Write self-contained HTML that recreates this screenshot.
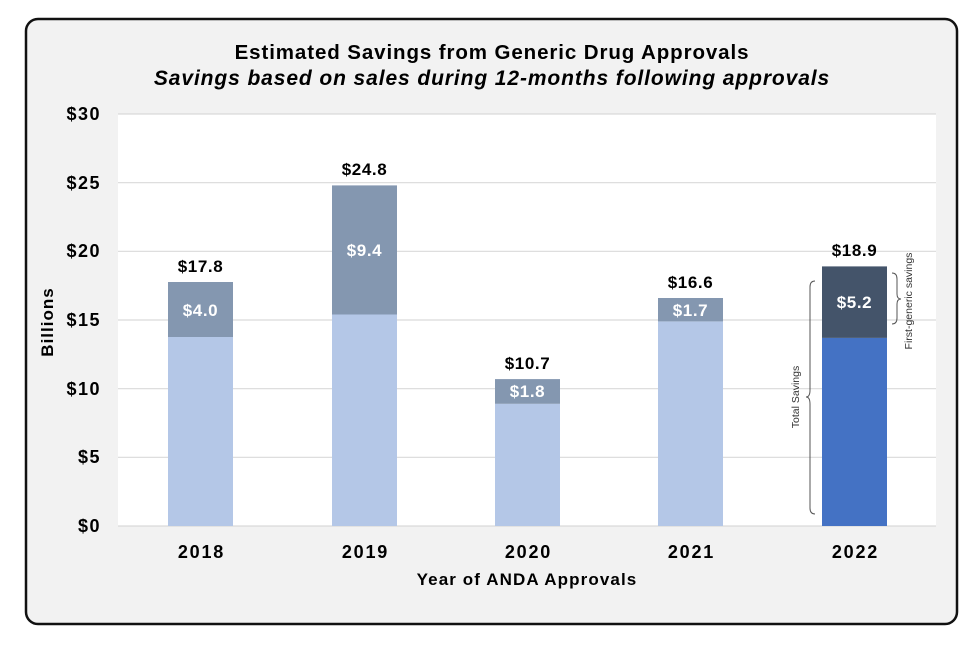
<!DOCTYPE html>
<html><head><style>body{margin:0;background:#fff}svg{display:block}text{font-family:"Liberation Sans",sans-serif}</style></head><body>
<svg width="980" height="651" xmlns="http://www.w3.org/2000/svg">
<rect x="26" y="19" width="931" height="605" rx="12" fill="#f2f2f2" stroke="#111" stroke-width="2.5"/>
<rect x="118" y="114" width="818" height="412" fill="#fff"/>
<g stroke="#d9d9d9" stroke-width="1.2">
<line x1="118" x2="936" y1="114" y2="114"/><line x1="118" x2="936" y1="182.7" y2="182.7"/>
<line x1="118" x2="936" y1="251.3" y2="251.3"/><line x1="118" x2="936" y1="320" y2="320"/>
<line x1="118" x2="936" y1="388.7" y2="388.7"/><line x1="118" x2="936" y1="457.3" y2="457.3"/>
<line x1="118" x2="936" y1="526" y2="526"/></g>
<g font-weight="bold" font-size="18" letter-spacing="1.5" text-anchor="end" fill="#000">
<text x="101" y="120">$30</text><text x="101" y="189">$25</text><text x="101" y="257">$20</text>
<text x="101" y="326">$15</text><text x="101" y="395">$10</text><text x="101" y="463">$5</text><text x="101" y="532">$0</text></g>
<text x="492" y="59" text-anchor="middle" font-weight="bold" font-size="20.5" letter-spacing="0.9">Estimated Savings from Generic Drug Approvals</text>
<text x="492" y="85" text-anchor="middle" font-weight="bold" font-style="italic" font-size="21" letter-spacing="0.9">Savings based on sales during 12-months following approvals</text>
<text transform="translate(53,322) rotate(-90)" text-anchor="middle" font-weight="bold" font-size="17" letter-spacing="1">Billions</text>
<text x="527" y="585" text-anchor="middle" font-weight="bold" font-size="17" letter-spacing="1.1">Year of ANDA Approvals</text>
<g fill="#b4c7e7">
<rect x="168" y="337" width="65" height="189"/><rect x="332" y="314.5" width="65" height="211.5"/>
<rect x="495" y="403.8" width="65" height="122.2"/><rect x="658" y="321.4" width="65" height="204.6"/></g>
<g fill="#8497b0">
<rect x="168" y="282" width="65" height="55"/><rect x="332" y="185.4" width="65" height="129.1"/>
<rect x="495" y="379.1" width="65" height="24.7"/><rect x="658" y="298" width="65" height="23.4"/></g>
<rect x="822" y="337.9" width="65" height="188.1" fill="#4472c4"/>
<rect x="822" y="266.4" width="65" height="71.5" fill="#44546a"/>
<g font-weight="bold" font-size="17" letter-spacing="0.6" text-anchor="middle" fill="#000">
<text x="200.5" y="272">$17.8</text><text x="364.5" y="175">$24.8</text><text x="527.5" y="369">$10.7</text>
<text x="690.5" y="288">$16.6</text><text x="854.5" y="256">$18.9</text></g>
<g font-weight="bold" font-size="17" letter-spacing="0.6" text-anchor="middle" fill="#fff">
<text x="200.5" y="316">$4.0</text><text x="364.5" y="256">$9.4</text><text x="527.5" y="397">$1.8</text>
<text x="690.5" y="316">$1.7</text><text x="854.5" y="308">$5.2</text></g>
<g font-weight="bold" font-size="18" letter-spacing="1.8" text-anchor="middle" fill="#000">
<text x="201.5" y="558">2018</text><text x="365.5" y="558">2019</text><text x="528.5" y="558">2020</text>
<text x="691.5" y="558">2021</text><text x="855.5" y="558">2022</text></g>
<g fill="none" stroke="#555" stroke-width="1">
<path d="M815,281 Q810,281 810,287 L810,390 Q810,397 806,397 Q810,397 810,404 L810,508 Q810,514 815,514"/>
<path d="M892,273 Q897,273 897,279 L897,294 Q897,299 901,299 Q897,299 897,304 L897,318 Q897,324 892,324"/></g>
<text transform="translate(799,397) rotate(-90)" text-anchor="middle" font-size="10.5" fill="#333">Total Savings</text>
<text transform="translate(912,301) rotate(-90)" text-anchor="middle" font-size="10.5" fill="#333">First-generic savings</text>
</svg>
</body></html>
